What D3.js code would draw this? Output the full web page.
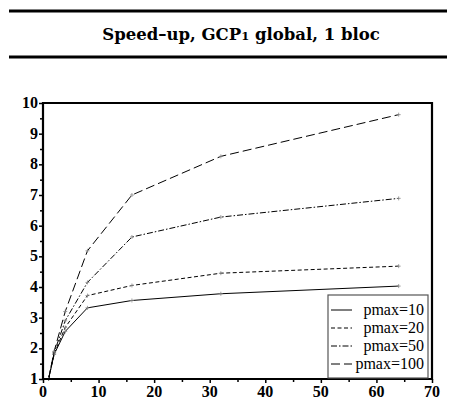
<!DOCTYPE html>
<html>
<head>
<meta charset="utf-8">
<script src="https://cdn.jsdelivr.net/npm/d3@7"></script>
<style>
  html, body { margin: 0; padding: 0; background: #fff; }
  svg { display: block; }
</style>
</head>
<body>
<svg id="chart" width="449" height="403"></svg>
<script>
// Number of processors
const procs = [1, 2, 4, 8, 16, 32, 64];

// Speed-up for each pmax setting
const pmax10  = [1, 1.80, 2.55, 3.32, 3.56, 3.78, 4.03];
const pmax20  = [1, 1.82, 2.68, 3.72, 4.05, 4.45, 4.68];
const pmax50  = [1, 1.86, 2.90, 4.15, 5.63, 6.28, 6.89];
const pmax100 = [1, 1.90, 3.20, 5.18, 7.00, 8.26, 9.62];

const seriesNames = ["pmax=10", "pmax=20", "pmax=50", "pmax=100"];
const seriesDash  = [null, "4,2.5", "6,2,1.5,2", "9,4"];

const xTicks = [0, 10, 20, 30, 40, 50, 60, 70];
const yTicks = [1, 2, 3, 4, 5, 6, 7, 8, 9, 10];

const SERIF = '"Liberation Serif"';
const TITLE_FONT = '"DejaVu Serif"';

const svg = d3.select("#chart");

// Title block with rules above and below
svg.append("line").attr("x1", 9).attr("x2", 447).attr("y1", 11).attr("y2", 11)
  .attr("stroke", "#000").attr("stroke-width", 3);
svg.append("line").attr("x1", 9).attr("x2", 447).attr("y1", 57).attr("y2", 57)
  .attr("stroke", "#000").attr("stroke-width", 3);
const title = svg.append("text")
  .attr("x", 241).attr("y", 40)
  .attr("text-anchor", "middle")
  .style("font-family", TITLE_FONT)
  .style("font-weight", "bold")
  .style("font-size", "16.5px")
  .attr("fill", "#000");
title.append("tspan").text("Speed–up, GCP");
title.append("tspan").style("font-size", "11.5px").text("1");
title.append("tspan").text(" global, 1 bloc");

// Plot area
const plotL = 43, plotR = 432, plotT = 103, plotB = 379;
const x = d3.scaleLinear().domain([0, 70]).range([plotL, plotR]);
const y = d3.scaleLinear().domain([1, 10]).range([plotB, plotT]);

const g = svg.append("g");

// Series lines
const allSeries = [pmax10, pmax20, pmax50, pmax100];
const line = d3.line().x((d, i) => x(procs[i])).y(d => y(d));
allSeries.forEach((vals, k) => {
  g.append("path")
    .datum(vals)
    .attr("d", line)
    .attr("fill", "none")
    .attr("stroke", "#000")
    .attr("stroke-width", 1)
    .attr("stroke-dasharray", seriesDash[k]);
  // small cross markers at each measured point
  g.selectAll(null).data(vals).enter().append("path")
    .attr("d", (d, i) => {
      const cx = x(procs[i]), cy = y(d);
      return `M${cx-2},${cy}H${cx+2}M${cx},${cy-2}V${cy+2}`;
    })
    .attr("stroke", "#888")
    .attr("stroke-width", 0.8);
});

// Frame
svg.append("path")
  .attr("d", `M${plotL},${plotB}V${plotT}H${plotR}V${plotB}Z`)
  .attr("fill", "none").attr("stroke", "#000").attr("stroke-width", 2.2);

// Tick marks (major and minor) from d3 axes
const xAxis = d3.axisBottom(x).tickValues(xTicks).tickSize(4).tickFormat(() => "");
const yAxis = d3.axisLeft(y).tickValues(yTicks).tickSize(4).tickFormat(() => "");
const xMinor = d3.axisBottom(x).tickValues(d3.range(5, 70, 10)).tickSize(3).tickFormat(() => "");
const yMinor = d3.axisLeft(y).tickValues(d3.range(1.5, 10, 1)).tickSize(3).tickFormat(() => "");

function styleAxis(sel) {
  sel.select(".domain").remove();
  sel.selectAll("text").remove();
  sel.selectAll("line").attr("stroke", "#000").attr("stroke-width", 1.5);
}
svg.append("g").attr("transform", `translate(0,${plotB})`).call(xAxis).call(styleAxis);
svg.append("g").attr("transform", `translate(0,${plotB})`).call(xMinor).call(styleAxis);
svg.append("g").attr("transform", `translate(${plotL},0)`).call(yAxis).call(styleAxis);
svg.append("g").attr("transform", `translate(${plotL},0)`).call(yMinor).call(styleAxis);

// Tick labels
svg.append("g").selectAll("text").data(xTicks).enter().append("text")
  .attr("x", d => x(d)).attr("y", plotB + 18)
  .attr("text-anchor", "middle")
  .style("font-family", SERIF)
  .style("font-weight", "bold")
  .style("font-size", "16px")
  .attr("fill", "#000")
  .text(d => d);
svg.append("g").selectAll("text").data(yTicks).enter().append("text")
  .attr("x", plotL - 5).attr("y", d => y(d) + 5)
  .attr("text-anchor", "end")
  .style("font-family", SERIF)
  .style("font-weight", "bold")
  .style("font-size", "16px")
  .attr("fill", "#000")
  .text(d => d);

// Legend
const lg = svg.append("g").attr("transform", "translate(328,295)");
lg.append("rect").attr("x", 0).attr("y", 0).attr("width", 100).attr("height", 83)
  .attr("fill", "#fff").attr("stroke", "#555").attr("stroke-width", 1.2);
seriesNames.forEach((name, k) => {
  const yy = 20 + k * 18;
  lg.append("line").attr("x1", 3).attr("x2", 24).attr("y1", yy - 5).attr("y2", yy - 5)
    .attr("stroke", "#000").attr("stroke-width", 1)
    .attr("stroke-dasharray", seriesDash[k]);
  lg.append("text").attr("x", 96).attr("y", yy)
    .attr("text-anchor", "end")
    .style("font-family", SERIF)
    .style("font-size", "16px")
    .attr("fill", "#000")
    .text(name);
});
</script>
</body>
</html>
